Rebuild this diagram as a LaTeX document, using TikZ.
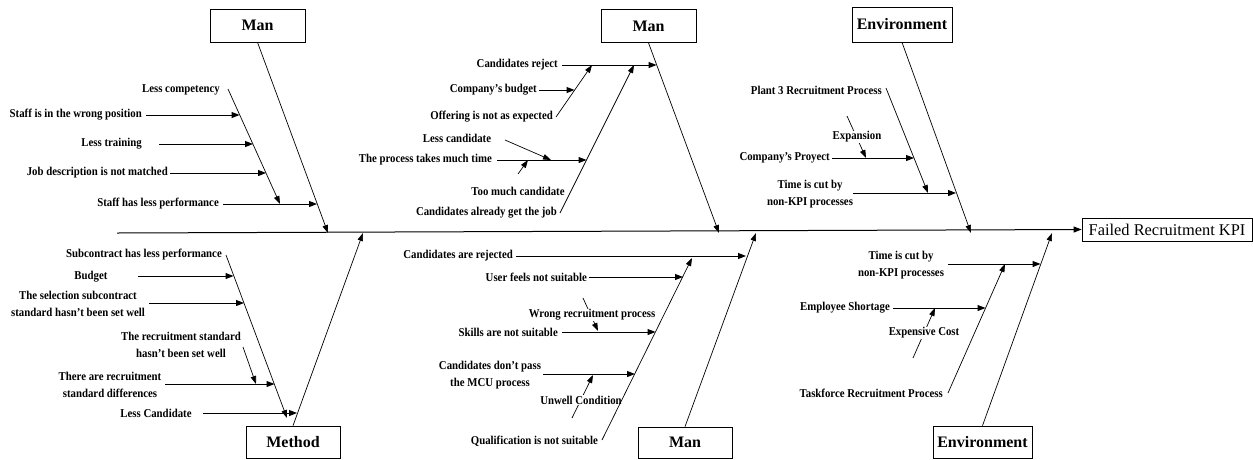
\documentclass[tikz,border=0pt]{standalone}
\usepackage{fontspec}
\setmainfont{Liberation Serif}
\newfontfamily\causefont{Liberation Serif}[FakeStretch=0.9]
\usetikzlibrary{arrows.meta}

\begin{document}
\begin{tikzpicture}[x=1pt,y=-1pt,
  catbox/.style={draw, line width=0.7pt, minimum width=95pt, minimum height=33pt,
    inner sep=0pt, font=\bfseries\fontsize{16}{18}\selectfont},
  effectbox/.style={draw, line width=0.7pt, minimum width=170pt, minimum height=23pt,
    inner sep=0pt, font=\fontsize{16.4}{18}\selectfont},
  lbl/.style={inner sep=0pt, font=\causefont\bfseries\fontsize{12}{16.5}\selectfont, align=center},
  wlbl/.style={lbl, fill=white, inner sep=0.5pt},
  cause/.style={line width=1pt, -{Triangle[length=8pt,width=6pt]}},
  bone/.style={line width=0.7pt, -{Triangle[length=8pt,width=5.5pt]}},
]
\useasboundingbox (0,0) rectangle (1253,459);

% category boxes and effect
\node[catbox] (man1) at (257.5,25.5) {Man};
\node[catbox] (man2) at (648.5,26) {Man};
\node[catbox, minimum width=100pt, minimum height=35pt] (env1) at (902,24.5) {Environment};
\node[catbox, minimum width=94pt, minimum height=32pt] (meth) at (293,442) {Method};
\node[catbox, minimum width=94pt, minimum height=31pt] (man3) at (685,442.5) {Man};
\node[catbox, minimum width=99pt, minimum height=32pt] (env2) at (982.5,442) {Environment};
\node[effectbox] (kpi) at (1167,229.5) {Failed Recruitment KPI};

% spine
\coordinate (spS) at (117,233);
\draw[cause] (spS) -- (kpi.west);

% points where the main bones meet the spine
\coordinate (t1) at (328,233);
\coordinate (t2) at (719,233);
\coordinate (t3) at (971,233);
\coordinate (t4) at (363,233);
\coordinate (t5) at (756,233);
\coordinate (t6) at (1052,233);

% secondary causes whose arrows pass under their labels
\coordinate (xA) at (847,116);  \coordinate (xB) at (866,158);
\coordinate (wA) at (583,298);  \coordinate (wB) at (598,331);
\coordinate (uA) at (572,418);  \coordinate (uB) at (593,375);
\coordinate (eA) at (913,358);  \coordinate (eB) at (935,308);
\draw[bone] (xA) -- (xB);
\draw[bone] (wA) -- (wB);
\draw[bone] (uA) -- (uB);
\draw[bone] (eA) -- (eB);
\node[wlbl] (lExp) at (857,137) {Expansion};
\node[wlbl] (lWrp) at (592,315) {Wrong recruitment process};
\node[wlbl] (lUnw) at (581,400) {Unwell Condition};
\node[wlbl] (lExc) at (924,333) {Expensive Cost};

% main bones
\draw[bone] (man1.south) -- (t1);
\draw[bone] (man2.south) -- (t2);
\draw[bone] (env1.south) -- (t3);
\draw[bone] (meth.north) -- (t4);
\draw[bone] (man3.north) -- (t5);
\draw[bone] (env2.north) -- (t6);

% ---------- Man (top left) ----------
\node[lbl, anchor=east] (a0) at (220,90) {Less competency};
\node[lbl, anchor=east] (a1) at (142,115) {Staff is in the wrong position};
\node[lbl, anchor=east] (a2) at (142,144) {Less training};
\node[lbl, anchor=east] (a3) at (168,173) {Job description is not matched};
\node[lbl, anchor=east] (a4) at (219,204) {Staff has less performance};
\coordinate (aS) at (228,89);  \coordinate (aE) at (280,204);
\draw[bone] (aS) -- (aE);
\coordinate (a1s) at (146,115); \coordinate (a1e) at (239.5,115);
\coordinate (a2s) at (159,144); \coordinate (a2e) at (253,144);
\coordinate (a3s) at (170,173); \coordinate (a3e) at (266,173);
\coordinate (a4s) at (223,204); \coordinate (a4e) at (317,204);
\draw[cause] (a1s) -- (a1e);
\draw[cause] (a2s) -- (a2e);
\draw[cause] (a3s) -- (a3e);
\draw[cause] (a4s) -- (a4e);

% ---------- Man (top middle) ----------
\node[lbl, anchor=east] (b1) at (558,65) {Candidates reject};
\node[lbl, anchor=east] (b2) at (537,90) {Company’s budget};
\node[lbl, anchor=east] (b3) at (553,117) {Offering is not as expected};
\node[lbl] (b4) at (457,138) {Less candidate};
\node[lbl, anchor=east] (b5) at (492,160) {The process takes much time};
\node[lbl] (b6) at (518,191) {Too much candidate};
\node[lbl, anchor=east] (b7) at (557,213) {Candidates already get the job};
\coordinate (bAs) at (556,117); \coordinate (bAe) at (592,65);
\coordinate (bBs) at (560,213); \coordinate (bBe) at (634,65);
\draw[bone] (bAs) -- (bAe);
\draw[bone] (bBs) -- (bBe);
\coordinate (b1s) at (562,65);  \coordinate (b1e) at (656.5,65);
\coordinate (b2s) at (539,90);  \coordinate (b2e) at (574.5,90);
\coordinate (b5s) at (497,160); \coordinate (b5e) at (586.5,160);
\coordinate (b4s) at (505,140); \coordinate (b4e) at (551,160);
\coordinate (b6s) at (518,174); \coordinate (b6e) at (528,160);
\draw[cause] (b1s) -- (b1e);
\draw[cause] (b2s) -- (b2e);
\draw[cause] (b5s) -- (b5e);
\draw[bone] (b4s) -- (b4e);
\draw[bone] (b6s) -- (b6e);

% ---------- Environment (top right) ----------
\node[lbl, anchor=east] (c1) at (882,90) {Plant 3 Recruitment Process};
\node[lbl, anchor=east] (c2) at (830,158) {Company’s Proyect};
\node[lbl] (c3) at (810,194) {Time is cut by\\non-KPI processes};
\coordinate (cAs) at (886,88); \coordinate (cAe) at (928,193);
\draw[bone] (cAs) -- (cAe);
\coordinate (c2s) at (832,158); \coordinate (c2e) at (914,158);
\coordinate (c3s) at (853,193); \coordinate (c3e) at (956,193);
\draw[cause] (c2s) -- (c2e);
\draw[cause] (c3s) -- (c3e);

% ---------- Method (bottom left) ----------
\node[lbl, anchor=east] (d1) at (222,255) {Subcontract has less performance};
\node[lbl] (d2) at (91,277) {Budget};
\node[lbl] (d3) at (78,304) {The selection subcontract\\standard hasn’t been set well};
\node[lbl] (d4) at (181,345) {The recruitment standard\\hasn’t been set well};
\node[lbl] (d5) at (110,385) {There are recruitment\\standard differences};
\node[lbl] (d6) at (156,413) {Less Candidate};
\coordinate (dAs) at (226,255); \coordinate (dAe) at (287,418);
\draw[bone] (dAs) -- (dAe);
\coordinate (d2s) at (138,276); \coordinate (d2e) at (233.5,276);
\coordinate (d3s) at (149,303); \coordinate (d3e) at (244,303);
\coordinate (d4s) at (243,347); \coordinate (d4e) at (256,384);
\coordinate (d5s) at (165,384); \coordinate (d5e) at (274.5,384);
\coordinate (d6s) at (203,413); \coordinate (d6e) at (297,413);
\draw[cause] (d2s) -- (d2e);
\draw[cause] (d3s) -- (d3e);
\draw[bone] (d4s) -- (d4e);
\draw[cause] (d5s) -- (d5e);
\draw[cause] (d6s) -- (d6e);

% ---------- Man (bottom middle) ----------
\node[lbl, anchor=east] (e1) at (513,256) {Candidates are rejected};
\node[lbl, anchor=east] (e2) at (587,277) {User feels not suitable};
\node[lbl, anchor=east] (e3) at (558,332) {Skills are not suitable};
\node[lbl] (e4) at (490,375) {Candidates don’t pass\\the MCU process};
\node[lbl, anchor=east] (e5) at (598,441) {Qualification is not suitable};
\coordinate (eSs) at (602,440); \coordinate (eSe) at (692,258);
\draw[bone] (eSs) -- (eSe);
\coordinate (e1s) at (516,256); \coordinate (e1e) at (746,256);
\coordinate (e2s) at (589,277); \coordinate (e2e) at (683,277);
\coordinate (e3s) at (562,332); \coordinate (e3e) at (655.5,332);
\coordinate (e4s) at (543,374); \coordinate (e4e) at (635,374);
\draw[cause] (e1s) -- (e1e);
\draw[cause] (e2s) -- (e2e);
\draw[cause] (e3s) -- (e3e);
\draw[cause] (e4s) -- (e4e);

% ---------- Environment (bottom right) ----------
\node[lbl] (f1) at (901,265) {Time is cut by\\non-KPI processes};
\node[lbl, anchor=east] (f2) at (890,308) {Employee Shortage};
\node[lbl, anchor=east] (f3) at (943,393) {Taskforce Recruitment Process};
\coordinate (fAs) at (948,393); \coordinate (fAe) at (1005,264);
\draw[bone] (fAs) -- (fAe);
\coordinate (f1s) at (948,264); \coordinate (f1e) at (1040.5,264);
\coordinate (f2s) at (893,308); \coordinate (f2e) at (985.5,308);
\draw[cause] (f1s) -- (f1e);
\draw[cause] (f2s) -- (f2e);
\end{tikzpicture}
\end{document}
